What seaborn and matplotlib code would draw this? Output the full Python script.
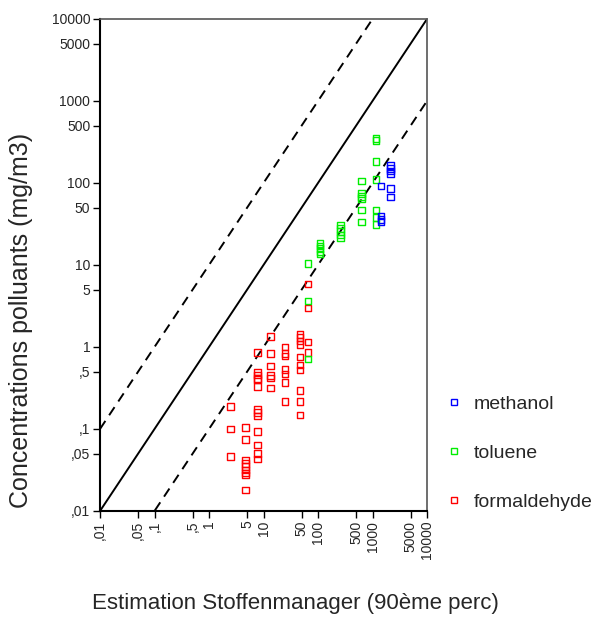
import numpy as np
import pandas as pd
import matplotlib
matplotlib.use("Agg")
import matplotlib.pyplot as plt
from matplotlib.lines import Line2D
import seaborn as sns

# ---- data ----
form_x = [66]*4 + [13.3]*6 + [7.7]*13 + [24.8]*7 + [47]*10 + [4.7]*9 + [2.5]*3
form_y = [5.87, 3.0, 1.15, 0.86,
          1.34, 0.83, 0.59, 0.45, 0.42, 0.316,
          0.86, 0.495, 0.456, 0.415, 0.40, 0.33, 0.172, 0.158, 0.145, 0.093, 0.064, 0.050, 0.043,
          1.0, 0.83, 0.78, 0.535, 0.469, 0.367, 0.218,
          1.43, 1.31, 1.18, 1.08, 0.76, 0.60, 0.525, 0.293, 0.218, 0.149,
          0.105, 0.074, 0.042, 0.038, 0.035, 0.0316, 0.029, 0.0275, 0.018,
          0.187, 0.1, 0.046]
tol_x = [66]*3 + [109]*5 + [261]*5 + [634]*6 + [1159]*7
tol_y = [10.4, 3.64, 0.71,
         18.4, 17.1, 15.8, 14.7, 13.6,
         30.7, 28.0, 25.5, 23.2, 21.2,
         105.7, 74.9, 68.1, 64.4, 46.9, 33.4,
         351, 328, 184, 111, 46.9, 37.8, 31.3]
meth_x = [2122]*6 + [1432]*4
meth_y = [163, 151, 141, 131, 85.2, 67.5,
          91.9, 39.6, 36.1, 33.7]

substances = ["methanol", "toluene", "formaldehyde"]
colors = {"methanol": "#0000ff", "toluene": "#00ee00", "formaldehyde": "#ff0000"}

ticks = [0.01, 0.05, 0.1, 0.5, 1, 5, 10, 50, 100, 500, 1000, 5000, 10000]
tick_labels = [",01", ",05", ",1", ",5", "1", "5", "10", "50", "100", "500", "1000", "5000", "10000"]
ref_factors = [1, 10, 0.1]
ref_dashed = [False, True, True]

df = pd.concat([
    pd.DataFrame({"x": form_x, "y": form_y, "substance": "formaldehyde"}),
    pd.DataFrame({"x": tol_x, "y": tol_y, "substance": "toluene"}),
    pd.DataFrame({"x": meth_x, "y": meth_y, "substance": "methanol"}),
])

sns.set_style("white")
plt.rcParams["font.family"] = ["Liberation Sans", "DejaVu Sans"]

fig = plt.figure(figsize=(5.95, 6.23), dpi=100)
ax = fig.add_axes([100/595, 1-511/623, 327/595, 492/623])
ax.set_xscale("log")
ax.set_yscale("log")
ax.set_xlim(ticks[0], ticks[-1])
ax.set_ylim(ticks[0], ticks[-1])

# reference lines (identity and factor-10 bands)
lx = np.array([ticks[0], ticks[-1]])
for f, dashed in zip(ref_factors, ref_dashed):
    line, = ax.plot(lx, lx*f, color="black", lw=1.4, zorder=1)
    if dashed:
        line.set_dashes((5, 3.5))

sns.scatterplot(data=df, x="x", y="y", hue="substance", palette=colors,
                marker="s", s=22, linewidth=1.0, legend=False, ax=ax, zorder=3)
for coll in ax.collections:
    fc = coll.get_facecolor()
    coll.set_edgecolor(fc)
    coll.set_facecolor("none")

ax.set_xticks(ticks)
ax.set_xticklabels(tick_labels, rotation=90, fontsize=10)
ax.set_yticks(ticks)
ax.set_yticklabels(tick_labels, fontsize=10)
ax.minorticks_off()
ax.tick_params(axis="both", which="major", direction="out", length=5, width=1,
               color="black", pad=2, left=True, bottom=True)
ax.set_xlabel("")
ax.set_ylabel("")
for side in ["left", "bottom"]:
    ax.spines[side].set_color("black")
    ax.spines[side].set_linewidth(1.5)
for side in ["top", "right"]:
    ax.spines[side].set_color("#555555")
    ax.spines[side].set_linewidth(1.2)

fig.text(295/595, 1-603/623, "Estimation Stoffenmanager (90ème perc)",
         ha="center", va="center", fontsize=16)
fig.text(21/595, 1-320/623, "Concentrations polluants (mg/m3)",
         ha="center", va="center", rotation=90, fontsize=18)

handles = [Line2D([], [], marker="s", ls="none", markersize=4,
                  markerfacecolor="none", markeredgecolor=colors[s], markeredgewidth=1)
           for s in substances]
fig.legend(handles, substances, loc="center left", bbox_to_anchor=(427/595, 1-453/623),
           frameon=False, fontsize=14, labelspacing=1.6, handlelength=1.0,
           handletextpad=0.5)

fig.savefig("out.png", dpi=100)
